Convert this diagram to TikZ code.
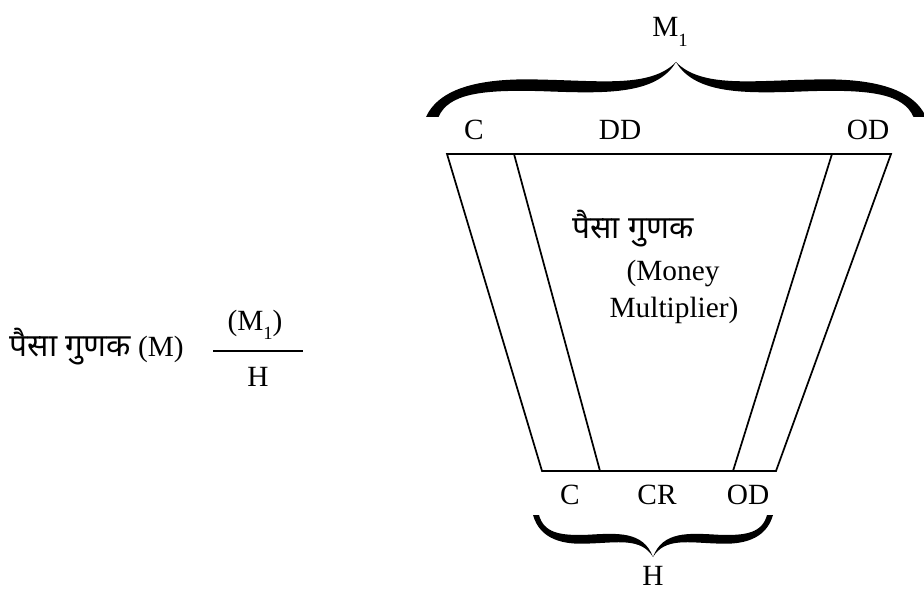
\documentclass[tikz,border=0pt]{standalone}
\usepackage{fontspec}
\setmainfont{Liberation Serif}
\newfontfamily\hindi[Script=Devanagari,Scale=1.08]{Noto Sans}
\usetikzlibrary{positioning}
\tikzset{font=\fontsize{22}{26}\selectfont}
\tikzset{every picture/.style={line width=1.3pt}}
\tikzstyle{lbl}=[inner sep=0pt]
\newcommand{\subone}{\raisebox{-0.7ex}{\fontsize{14}{14}\selectfont 1}}
% curly brace, cusp at origin, tips at (-1,1) and (1,1)
\tikzset{pics/curly/.style={code={
\fill (0,0) .. controls (-0.10,0.47) and (-0.30,0.34) .. (-0.54,0.32)
 .. controls (-0.74,0.29) and (-0.94,0.40) .. (-1,1) -- (-0.95,1)
 .. controls (-0.91,0.58) and (-0.78,0.50) .. (-0.54,0.53)
 .. controls (-0.30,0.57) and (-0.08,0.62) .. (0,0);
\fill (0,0) .. controls (0.10,0.47) and (0.30,0.34) .. (0.54,0.32)
 .. controls (0.74,0.29) and (0.94,0.40) .. (1,1) -- (0.95,1)
 .. controls (0.91,0.58) and (0.78,0.50) .. (0.54,0.53)
 .. controls (0.30,0.57) and (0.08,0.62) .. (0,0);
}}}

\begin{document}
\begin{tikzpicture}[x=0.75pt,y=-0.75pt]
\useasboundingbox (0,0) rectangle (924,591);
% trapezoid corners
\coordinate (tl) at (447,154);
\coordinate (tc) at (514,154);
\coordinate (tr2) at (832,154);
\coordinate (tr) at (891,154);
\coordinate (bl) at (542,471);
\coordinate (bc) at (600,471);
\coordinate (br2) at (733,471);
\coordinate (br) at (776,471);
\draw (tl) -- (tr) -- (br) -- (bl) -- cycle;
\draw (tc) -- (bc);
\draw (tr2) -- (br2);
% braces
\pic[xscale=250,yscale=55] at (676,62) {curly};
\pic[xscale=120,yscale=-42] at (653,557) {curly};
% labels
\node[lbl] (m1) at (670,32) {M\subone};
\node[lbl] (c1) at (474,130) {C};
\node[lbl] (dd) at (620,130) {DD};
\node[lbl] (od1) at (868,130) {OD};
\node[lbl] (pg) at (633,229) {\hindi पैसा गुणक};
\node[lbl] (money) at (673,273) {(Money};
\node[lbl] (mult) at (674,310) {Multiplier)};
\node[lbl] (c2) at (570,495) {C};
\node[lbl] (cr) at (657,495) {CR};
\node[lbl] (od2) at (748,495) {OD};
\node[lbl] (h1) at (653,576) {H};
% left formula
\node[lbl,anchor=west] (mm) at (9,347) {{\hindi पैसा गुणक} (M)};
\node[lbl] (num) at (255,325) {(M\subone)};
\node[lbl] (den) at (258,377) {H};
\coordinate (fl) at (213,351);
\coordinate (fr) at (303,351);
\draw[line width=1pt] (fl) -- (fr);
\end{tikzpicture}
\end{document}
